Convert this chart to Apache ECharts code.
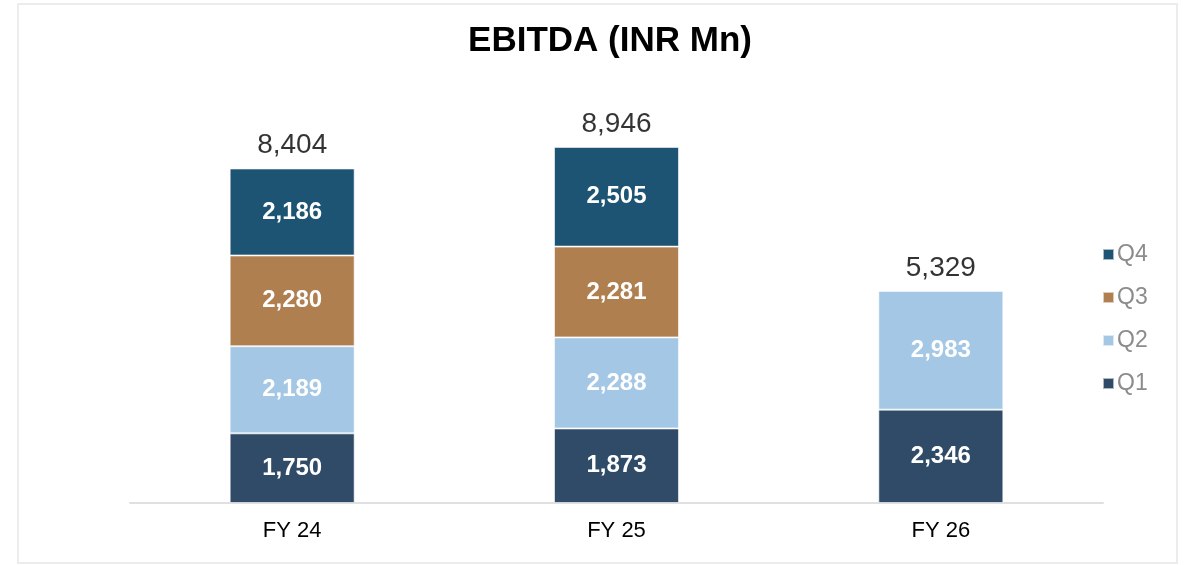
<!DOCTYPE html>
<html>
<head>
<meta charset="utf-8">
<script src="https://cdn.jsdelivr.net/npm/echarts@6/dist/echarts.min.js"></script>
<style>
  html, body { margin: 0; padding: 0; background: #fff; }
  #chart { width: 1190px; height: 565px; }
</style>
</head>
<body>
<div id="chart"></div>
<script>
// EBITDA by quarter, INR Mn
const categories = ['FY 24', 'FY 25', 'FY 26']
const q1 = [1750, 1873, 2346]
const q2 = [2189, 2288, 2983]
const q3 = [2280, 2281, null]
const q4 = [2186, 2505, null]
const totals = [8404, 8946, 5329]

const font = '"Liberation Sans", Arial, sans-serif'
const fmt = v => v.toLocaleString('en-US')

function quarter(name, data, color) {
  return {
    name,
    type: 'bar',
    stack: 'ebitda',
    barWidth: 125,
    data,
    itemStyle: { color, borderColor: 'rgba(255,255,255,0.6)', borderWidth: 1 },
    label: {
      show: true,
      position: 'inside',
      color: '#fff',
      fontFamily: font,
      fontWeight: 'bold',
      fontSize: 24,
      formatter: p => fmt(p.value)
    }
  }
}

const chart = echarts.init(document.getElementById('chart'))
chart.setOption({
  backgroundColor: '#fff',
  animation: false,
  title: {
    text: 'EBITDA (INR Mn)',
    left: 605,
    top: 19,
    textAlign: 'center',
    textStyle: { fontFamily: font, fontWeight: 'bold', fontSize: 35, color: '#000' }
  },
  graphic: [{
    type: 'rect',
    shape: { x: 18, y: 4, width: 1159, height: 559 },
    style: { fill: 'none', stroke: '#ececec', lineWidth: 2 },
    silent: true
  }],
  legend: {
    data: ['Q4', 'Q3', 'Q2', 'Q1'],
    orient: 'vertical',
    left: 1097,
    top: 238,
    itemWidth: 11,
    itemHeight: 11,
    itemGap: 20,
    icon: 'rect',
    textStyle: { fontFamily: font, fontSize: 23, color: '#8c8c8c', lineHeight: 23, padding: [0, 0, 0, -2] }
  },
  grid: { left: 130, right: 87, top: 105, bottom: 62 },
  xAxis: {
    type: 'category',
    data: categories,
    axisLine: { lineStyle: { color: '#e0e0e0', width: 2 } },
    axisTick: { show: false },
    axisLabel: { fontFamily: font, fontSize: 22, color: '#000', margin: 17 }
  },
  yAxis: {
    type: 'value',
    min: 0,
    max: 10000,
    show: false,
    splitLine: { show: false }
  },
  series: [
    quarter('Q1', q1, '#2f4b68'),
    quarter('Q2', q2, '#a3c7e4'),
    quarter('Q3', q3, '#af7f4f'),
    quarter('Q4', q4, '#1d5373'),
    {
      name: 'Total',
      type: 'scatter',
      symbolSize: 0,
      data: totals,
      silent: true,
      label: {
        show: true,
        position: 'top',
        distance: 9,
        color: '#000',
        fontFamily: font,
        fontSize: 28,
        formatter: p => fmt(p.value)
      }
    }
  ]
})
</script>
</body>
</html>
